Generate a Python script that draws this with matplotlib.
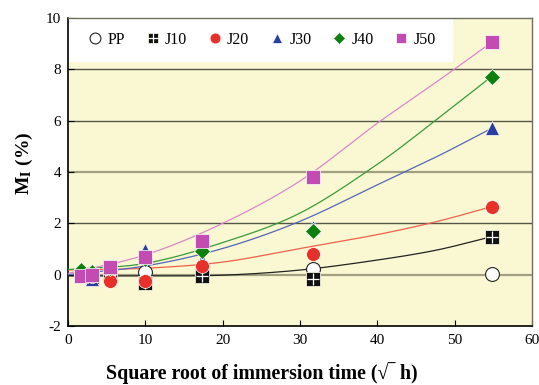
import numpy as np
import matplotlib
matplotlib.use("Agg")
import matplotlib.pyplot as plt
from matplotlib.patches import Rectangle
from matplotlib.legend_handler import HandlerTuple

plt.rcParams['font.family'] = ['Liberation Serif', 'DejaVu Serif']
plt.rcParams['mathtext.fontset'] = 'stix'
plt.rcParams['axes.unicode_minus'] = False

# square root of immersion time (sqrt h)
x = [1.73, 3.16, 5.48, 10.0, 17.32, 31.62, 54.77]

PP  = [0.00, 0.00, 0.06, 0.12, 0.00, 0.21, 0.02]
J10 = [0.00, -0.10, 0.00, -0.33, -0.07, -0.18, 1.48]
J20 = [0.00, -0.05, -0.26, -0.26, 0.34, 0.79, 2.65]
J30 = [0.05, -0.17, -0.14, 0.96, 0.57, 1.87, 5.70]
J40 = [0.20, 0.10, 0.25, 0.60, 0.93, 1.70, 7.72]
J50 = [-0.07, 0.00, 0.31, 0.68, 1.33, 3.79, 9.05]

# trend-line values
x_trend = [0, 10, 20, 30, 40, 47.7, 54.77]
J10_trend = [-0.05, -0.05, -0.02, 0.18, 0.57, 0.96, 1.48]
J20_trend = [0.18, 0.25, 0.49, 1.02, 1.56, 2.07, 2.65]
J30_trend = [0.00, 0.34, 1.02, 2.08, 3.50, 4.60, 5.70]
J40_trend = [0.20, 0.44, 1.25, 2.40, 4.30, 6.05, 7.72]
J50_trend = [0.05, 0.77, 2.00, 3.65, 5.90, 7.52, 9.05]

xticks = [0, 10, 20, 30, 40, 50, 60]
yticks = [-2, 0, 2, 4, 6, 8, 10]


def smooth(xs, ys, n=40):
    """Cubic Hermite curve through the given knots (Catmull-Rom tangents)."""
    xs = np.asarray(xs, float)
    ys = np.asarray(ys, float)
    m = np.zeros_like(ys)
    m[1:-1] = (ys[2:] - ys[:-2]) / (xs[2:] - xs[:-2])
    m[0] = (ys[1] - ys[0]) / (xs[1] - xs[0])
    m[-1] = (ys[-1] - ys[-2]) / (xs[-1] - xs[-2])
    out_x, out_y = [], []
    for i in range(len(xs) - 1):
        h = xs[i + 1] - xs[i]
        t = np.linspace(0, 1, n, endpoint=False)
        h00 = 2 * t**3 - 3 * t**2 + 1
        h10 = t**3 - 2 * t**2 + t
        h01 = -2 * t**3 + 3 * t**2
        h11 = t**3 - t**2
        out_x.append(xs[i] + t * h)
        out_y.append(h00 * ys[i] + h10 * h * m[i] + h01 * ys[i + 1] + h11 * h * m[i + 1])
    out_x.append([xs[-1]])
    out_y.append([ys[-1]])
    return np.concatenate(out_x), np.concatenate(out_y)


fig = plt.figure(figsize=(5.39, 3.85), dpi=100)
ax = fig.add_axes([68/539, 1-326/385, 464/539, 308/385])
ax.set_facecolor('#faf8d2')
ax.set_xlim(0, 60)
ax.set_ylim(-2, 10)

# horizontal grid
for yv in [0, 2, 4, 6, 8]:
    if yv in (0, 4):
        ax.axhline(yv, color='#a09f80', lw=1.6, zorder=1)
    else:
        ax.axhline(yv, color='#555548', lw=1.0, zorder=1)

# white legend panel
ax.add_patch(Rectangle((0, 1-44/308), 385/464, 44/308, transform=ax.transAxes,
                       facecolor='white', edgecolor='none', zorder=2))

trends = [
    (J10_trend, '#222222'),
    (J20_trend, '#f0604c'),
    (J30_trend, '#5566b8'),
    (J40_trend, '#3a9a3a'),
    (J50_trend, '#d888cc'),
]
for ys, lc in trends:
    xx, yy = smooth(x_trend, ys)
    ax.plot(xx, yy, color=lc, lw=0.9, zorder=3)

h_pp, = ax.plot(x, PP, 'o', ms=10, mfc='white', mec='#222222', mew=0.8, zorder=4, ls='none')
h_j10a, = ax.plot(x, J10, 's', ms=10, mfc='#111111', mec='#f0f0e0', mew=0.6, zorder=4, ls='none')
h_j10b, = ax.plot(x, J10, '+', ms=9, mec='white', mew=0.9, zorder=4.1, ls='none')
h_j30, = ax.plot(x, J30, '^', ms=10, mfc='#2a3ea0', mec='white', mew=0.5, zorder=4.2, ls='none')
h_j20, = ax.plot(x, J20, 'o', ms=10, mfc='#e8302a', mec='white', mew=0.5, zorder=4.3, ls='none')
h_j40, = ax.plot(x, J40, 'D', ms=8, mfc='#0e800e', mec='white', mew=0.5, zorder=4.4, ls='none')
h_j50, = ax.plot(x, J50, 's', ms=10, mfc='#c24cb2', mec='white', mew=0.5, zorder=4.5, ls='none')

leg = ax.legend([h_pp, (h_j10a, h_j10b), h_j20, h_j30, h_j40, h_j50],
                ['PP', 'J10', 'J20', 'J30', 'J40', 'J50'],
                handler_map={tuple: HandlerTuple(ndivide=1)},
                ncol=6, frameon=False, loc='center',
                bbox_to_anchor=(0.418, 1-22/308), bbox_transform=ax.transAxes,
                fontsize=11.5, handlelength=0.9, handletextpad=0.3,
                columnspacing=1.3, markerscale=0.78)
leg.set_zorder(6)

ax.set_xticks(xticks)
ax.set_yticks(yticks)
ax.tick_params(direction='in', length=4, width=0.8, labelsize=11, colors='black')
ax.tick_params(axis='x', pad=6)
ax.tick_params(axis='y', pad=5)
for s in ['left', 'bottom']:
    ax.spines[s].set_color('black')
    ax.spines[s].set_linewidth(1.2)
for s in ['top', 'right']:
    ax.spines[s].set_color('#707060')
    ax.spines[s].set_linewidth(1.0)

ax.set_xlabel('Square root of immersion time (\u221a\u203e h)',
              fontsize=14.3, fontweight='bold')
ax.xaxis.set_label_coords((262 - 68) / 464, -36 / 308)
ax.set_ylabel(r'M$_\mathbf{I}$ (%)', fontsize=14, fontweight='bold')
ax.yaxis.set_label_coords(-33 / 464, (326 - 163) / 308)

fig.savefig('out.png', dpi=100)
